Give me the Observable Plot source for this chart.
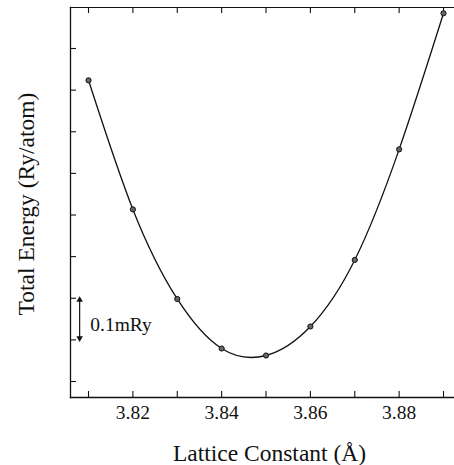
<!DOCTYPE html>
<html>
<head>
<meta charset="utf-8">
<script src="https://cdn.jsdelivr.net/npm/d3@7"></script>
<script src="https://cdn.jsdelivr.net/npm/@observablehq/plot@0.6"></script>
<style>
  html, body { margin: 0; padding: 0; background: white; }
</style>
</head>
<body>
<div id="chart"></div>
<script>
// Lattice constant (Å)
const latticeConstant = [3.81, 3.82, 3.83, 3.84, 3.85, 3.86, 3.87, 3.88, 3.89];
// Total energy relative to an arbitrary reference (mRy/atom)
const totalEnergy = [0.7236, 0.4135, 0.1983, 0.0793, 0.0625, 0.1322, 0.2921, 0.5577, 0.8846];

const xTicks = [3.81, 3.82, 3.83, 3.84, 3.85, 3.86, 3.87, 3.88, 3.89];
const xTickLabels = [3.82, 3.84, 3.86, 3.88];
const yTicks = [0, 0.1, 0.2, 0.3, 0.4, 0.5, 0.6, 0.7, 0.8];

const xDomain = [3.80594, 3.89225];
const yDomain = [-0.0384, 0.8985];

// scale bar annotation (0.1 mRy)
const scaleBarX = 3.808;
const scaleBarY = [0.1, 0.2];
const scaleBarLabel = "0.1mRy";
const scaleBarLabelPos = {x: 3.8104, y: 0.1225};

const xTitle = "Lattice Constant (Å)";
const yTitle = "Total Energy (Ry/atom)";

const serif = "'Liberation Serif', 'DejaVu Serif', serif";
const W = 454, H = 465;
const mL = 70, mR = 1, mT = 7, mB = 68;
const tickLen = 6;
const frameW = W - mL - mR, frameH = H - mT - mB;

const data = latticeConstant.map((x, i) => ({x, y: totalEnergy[i]}));

const chart = Plot.plot({
  width: W,
  height: H,
  marginLeft: mL,
  marginRight: mR,
  marginTop: mT,
  marginBottom: mB,
  style: {fontFamily: serif, fontSize: "19.5px", background: "white", color: "black"},
  x: {domain: xDomain, axis: null},
  y: {domain: yDomain, axis: null},
  marks: [
    Plot.frame({anchor: "left", stroke: "#111", strokeWidth: 1.3}),
    Plot.frame({anchor: "bottom", stroke: "#111", strokeWidth: 1.3}),
    Plot.frame({anchor: "top", stroke: "#111", strokeWidth: 1.2}),
    // inward ticks: bottom
    Plot.ruleX(xTicks, {x: d => d, insetTop: frameH - tickLen, stroke: "#111", strokeWidth: 1.1}),
    // inward ticks: top
    Plot.ruleX(xTicks, {x: d => d, insetBottom: frameH - tickLen, stroke: "#111", strokeWidth: 1.1}),
    // inward ticks: left
    Plot.ruleY(yTicks, {y: d => d, insetRight: frameW - tickLen, stroke: "#111", strokeWidth: 1.1}),
    // x tick labels
    Plot.text(xTickLabels, {x: d => d, frameAnchor: "bottom", text: d => d.toFixed(2), textAnchor: "middle", lineAnchor: "top", dy: 7.5, fontSize: 19.5, fontFamily: serif, fill: "#111"}),
    // fitted curve
    Plot.line(data, {x: "x", y: "y", curve: "natural", stroke: "#111", strokeWidth: 1.3}),
    // data points
    Plot.dot(data, {x: "x", y: "y", r: 2.6, fill: "#666", stroke: "#111", strokeWidth: 1}),
    // scale bar
    Plot.link([scaleBarY], {x1: () => scaleBarX, x2: () => scaleBarX, y1: d => d[0] + 0.006, y2: d => d[1] - 0.006, stroke: "#111", strokeWidth: 1.2}),
    Plot.dot([scaleBarY[1]], {x: () => scaleBarX, y: d => d - 0.004, symbol: "triangle", r: 2.4, fill: "#111", stroke: "none"}),
    Plot.dot([scaleBarY[0]], {x: () => scaleBarX, y: d => d + 0.004, symbol: "triangle", rotate: 180, r: 2.4, fill: "#111", stroke: "none"}),
    Plot.text([scaleBarLabel], {x: () => scaleBarLabelPos.x, y: () => scaleBarLabelPos.y, text: d => d, textAnchor: "start", lineAnchor: "bottom", fontSize: 19.5, fontFamily: serif, fill: "#111"}),
    // axis titles
    Plot.text([xTitle], {frameAnchor: "bottom", text: d => d, textAnchor: "middle", lineAnchor: "bottom", dy: 63, dx: 7.5, fontSize: 23.5, fontFamily: serif, fill: "#111"}),
    Plot.text([yTitle], {frameAnchor: "left", text: d => d, rotate: -90, textAnchor: "middle", lineAnchor: "bottom", dx: -37, dy: 1.5, fontSize: 23.5, fontFamily: serif, fill: "#111"})
  ]
});

document.getElementById("chart").appendChild(chart);
</script>
</body>
</html>
